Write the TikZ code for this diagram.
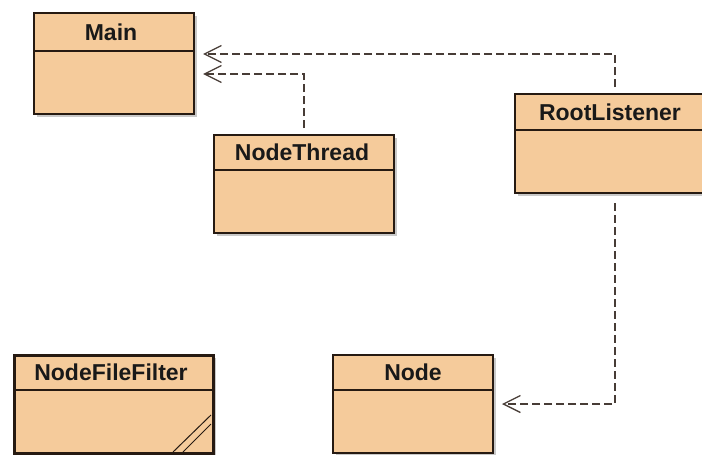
\documentclass[tikz,border=0pt]{standalone}
\usepackage{fontspec}
\setmainfont{Liberation Sans}
\usetikzlibrary{arrows.meta,shadows}
\definecolor{peach}{RGB}{245,203,155}
\definecolor{edgec}{RGB}{38,26,18}
\begin{document}
\begin{tikzpicture}[x=1pt,y=-1pt,
  cls/.style={draw=edgec, fill=peach, line width=1.5pt, inner sep=0pt, outer sep=0pt,
    drop shadow={shadow xshift=2.5pt, shadow yshift=-2.5pt, opacity=0.35, fill=black!60}},
  divline/.style={draw=edgec, line width=1.2pt},
  title/.style={font=\fontsize{23}{23}\selectfont\bfseries, text=black!90, inner sep=0pt},
  dep/.style={draw=edgec!85, line width=1.3pt, dash pattern=on 8pt off 4pt,
    -{Straight Barb[length=17pt,width=17pt]}, shorten <=7pt, shorten >=9pt}]
\useasboundingbox (0,0) rectangle (702,455);
\clip (0,0) rectangle (702,455);
\fill[white] (0,0) rectangle (702,455);
% classes
\node[cls, minimum width=160pt, minimum height=101pt] (main) at (114,63.5) {};
\node[cls, minimum width=180pt, minimum height=98pt] (nt) at (304,184) {};
\node[cls, minimum width=195pt, minimum height=99pt] (rl) at (612.5,143.5) {};
\node[cls, line width=3pt, minimum width=199pt, minimum height=98pt] (nff) at (113.5,404) {};
\node[cls, minimum width=160pt, minimum height=98pt] (nd) at (413,404) {};
% dividers
\draw[divline] (main.west |- 0,51) -- (main.east |- 0,51);
\draw[divline] (nt.west |- 0,170) -- (nt.east |- 0,170);
\draw[divline] (rl.west |- 0,130) -- (rl.east |- 0,130);
\draw[divline] (nff.west |- 0,390) -- (nff.east |- 0,390);
\draw[divline] (nd.west |- 0,390) -- (nd.east |- 0,390);
% titles
\node[title] (mainT) at (111,32) {Main};
\node[title] (ntT) at (302,152.5) {NodeThread};
\node[title] (rlT) at (610,112) {RootListener};
\node[title] (nffT) at (111,372.5) {NodeFileFilter};
\node[title] (ndT) at (413,372.5) {Node};
% resize marker
\draw[edgec, line width=1pt] (173,452) -- (211,415) (183,452) -- (211,424);
% dependencies
\draw[dep] ([xshift=2.5pt]rl.north) |- ([yshift=9.5pt]main.east);
\draw[dep] (nt.north) |- ([yshift=-10.5pt]main.east);
\draw[dep, shorten <=10pt] ([xshift=2.5pt]rl.south) |- (nd.east);
\end{tikzpicture}
\end{document}
